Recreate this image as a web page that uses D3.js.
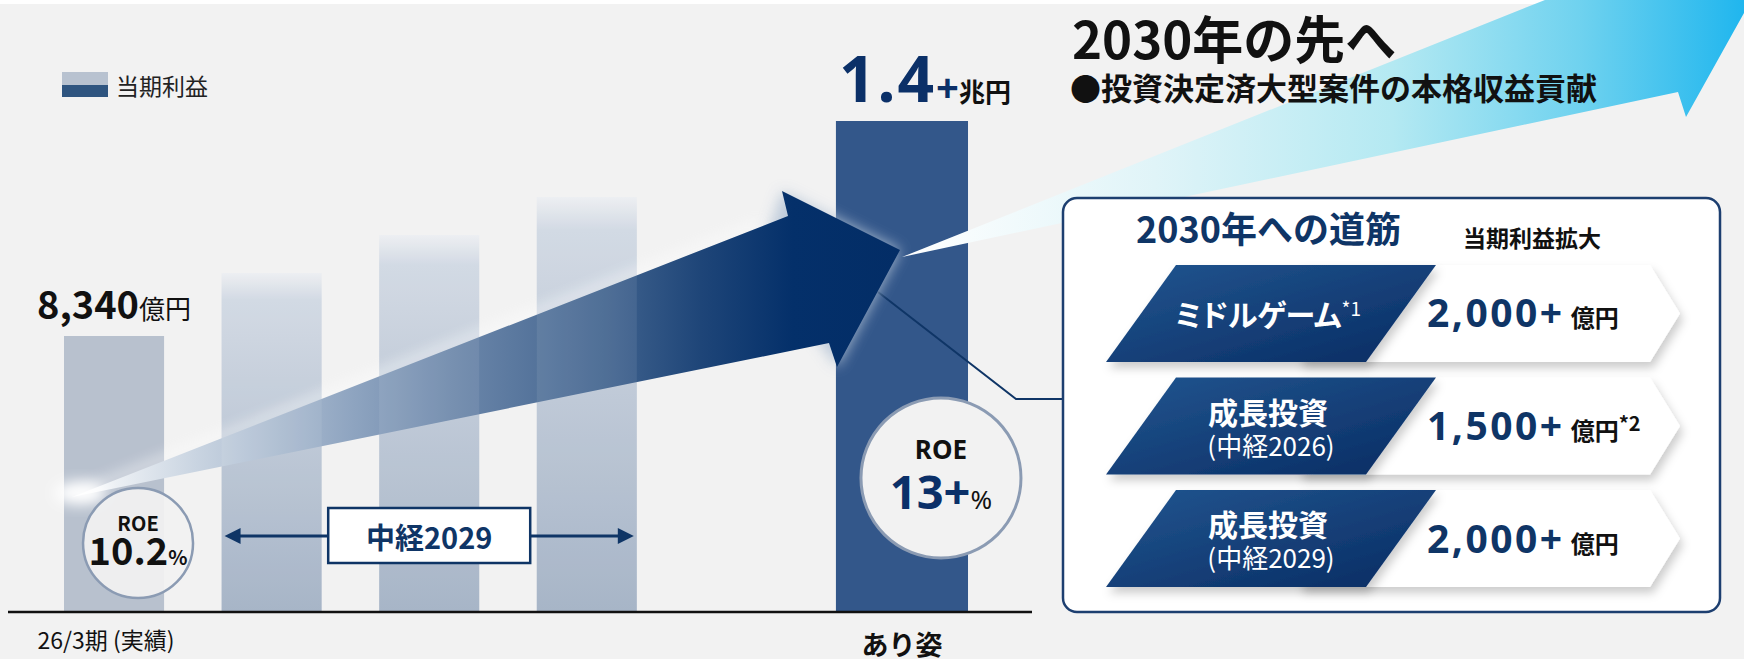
<!DOCTYPE html>
<html>
<head>
<meta charset="utf-8">
<script src="https://cdn.jsdelivr.net/npm/d3@7"></script>
<style>
  html, body { margin: 0; padding: 0; background: #f2f2f2; }
  svg { display: block; font-family: "Noto Sans CJK JP", "Noto Sans", sans-serif; }
</style>
</head>
<body>
<svg id="chart"></svg>
<script>
// ---- data ----
const periods = ["26/3期", "27/3期", "28/3期", "29/3期", "あり姿"];
const profit = [8340, 10000, 11000, 12000, 14000]; // 億円 (middle three)
const xLabels = ["26/3期 (実績)", "", "", "", "あり姿"];
const roeValues = ["10.2", "13+"];
const pathLabels = ["ミドルゲーム", "成長投資", "成長投資"];
const pathSubLabels = ["", "(中経2026)", "(中経2029)"];
const pathLabelNotes = ["*1", "", ""];
const pathValues = [2000, 1500, 2000]; // 億円
const pathValueNotes = ["", "*2", ""];

const width = 1744, height = 659;
const baseY = 611;
const navy = "#0f3566";

const svg = d3.select("#chart").attr("width", width).attr("height", height);
const defs = svg.append("defs");

// background + thin white strip at the top
svg.append("rect").attr("width", width).attr("height", height).attr("fill", "#f2f2f2");
svg.append("rect").attr("width", width).attr("height", 4).attr("fill", "#ffffff");

// ---- gradients & filters ----
const barGrad = defs.append("linearGradient").attr("id", "barGrad")
  .attr("x1", 0).attr("y1", 0).attr("x2", 0).attr("y2", 1);
barGrad.append("stop").attr("offset", 0).attr("stop-color", "#eceef1");
barGrad.append("stop").attr("offset", 0.08).attr("stop-color", "#cfd7e2");
barGrad.append("stop").attr("offset", 1).attr("stop-color", "#a0afc3");

const arrowGrad = defs.append("linearGradient").attr("id", "arrowGrad")
  .attr("gradientUnits", "userSpaceOnUse")
  .attr("x1", 72).attr("y1", 0).attr("x2", 900).attr("y2", 0);
[[0, "#ffffff"], [0.15, "#c9d4e1"], [0.34, "#8ea4c0"], [0.46, "#6c87aa"],
 [0.64, "#42648f"], [0.76, "#1e4578"], [0.87, "#04306a"], [1, "#032d66"]]
  .forEach(([o, c]) => arrowGrad.append("stop").attr("offset", o).attr("stop-color", c));

const cyanGrad = defs.append("linearGradient").attr("id", "cyanGrad")
  .attr("gradientUnits", "userSpaceOnUse")
  .attr("x1", 900).attr("y1", 0).attr("x2", 1750).attr("y2", 0);
[[0, "#ffffff"], [0.3, "#e0f4f8"], [0.58, "#b4e9f2"], [0.8, "#6fd2ef"], [1, "#1db5ee"]]
  .forEach(([o, c]) => cyanGrad.append("stop").attr("offset", o).attr("stop-color", c));

const tagGrad = defs.append("linearGradient").attr("id", "tagGrad")
  .attr("x1", 0).attr("y1", 0).attr("x2", 1).attr("y2", 1);
tagGrad.append("stop").attr("offset", 0).attr("stop-color", "#225690");
tagGrad.append("stop").attr("offset", 1).attr("stop-color", "#082b62");

const blur = defs.append("filter").attr("id", "blur")
  .attr("x", "-50%").attr("y", "-50%").attr("width", "200%").attr("height", "200%");
blur.append("feGaussianBlur").attr("stdDeviation", 7);

const shadow = defs.append("filter").attr("id", "shadow")
  .attr("x", "-20%").attr("y", "-30%").attr("width", "140%").attr("height", "170%");
shadow.append("feDropShadow").attr("dx", 3).attr("dy", 6).attr("stdDeviation", 5)
  .attr("flood-color", "#000").attr("flood-opacity", 0.2);

// ---- scales ----
const slots = [...periods.slice(0, 4), "", periods[4]];
const x = d3.scaleBand().domain(slots).range([64, 952]).paddingInner(0.365).paddingOuter(0);
const y = d3.scaleLinear().domain([1100, 14000]).range([baseY, 121]);
const bw = x.bandwidth();
const last = periods.length - 1;
const barW = (i) => (i === last ? bw * 1.32 : bw);
const barX = (d, i) => x(d) + bw / 2 - barW(i) / 2;

// ---- legend ----
svg.append("rect").attr("x", 62).attr("y", 72).attr("width", 46).attr("height", 13).attr("fill", "#b8c2d0");
svg.append("rect").attr("x", 62).attr("y", 85).attr("width", 46).attr("height", 12).attr("fill", "#2f5580");
svg.append("text").attr("x", 116).attr("y", 95).attr("font-size", 23).attr("fill", "#222").text("当期利益");

// ---- target bar (under the arrow) ----
svg.append("rect")
  .attr("x", barX(periods[last], last)).attr("y", y(profit[last]))
  .attr("width", barW(last)).attr("height", baseY - y(profit[last]))
  .attr("fill", "#33578a");

// ---- current + middle bars ----
svg.selectAll(".bar").data(periods.slice(0, 4)).enter().append("rect")
  .attr("class", "bar")
  .attr("x", (d, i) => barX(d, i)).attr("y", (d, i) => y(profit[i]))
  .attr("width", (d, i) => barW(i)).attr("height", (d, i) => baseY - y(profit[i]))
  .attr("fill", (d, i) => (i === 0 ? "#b8c1ce" : "url(#barGrad)"));

// connector from arrow tip to the panel
svg.append("polyline").attr("points", "878,292 1016,399 1064,399")
  .attr("fill", "none").attr("stroke", navy).attr("stroke-width", 2);

// ---- big growth arrow ----
const arrowPts = "72,497 788,216 782,191 900,250 837,367 829,343";
svg.append("polygon").attr("points", "782,191 900,250 837,367 760,260")
  .attr("fill", "#b9c7d8").attr("opacity", 0.9).attr("filter", "url(#blur)");
svg.append("line").attr("x1", 80).attr("y1", 492).attr("x2", 760).attr("y2", 224)
  .attr("stroke", "#ffffff").attr("stroke-width", 6).attr("opacity", 0.8).attr("filter", "url(#blur)");
svg.append("polygon").attr("points", arrowPts).attr("fill", "url(#arrowGrad)");
svg.append("ellipse").attr("cx", 80).attr("cy", 493).attr("rx", 26).attr("ry", 12)
  .attr("fill", "#ffffff").attr("filter", "url(#blur)");

// bars show faintly through the arrow
svg.selectAll(".barGlow").data(periods.slice(1, 4)).enter().append("rect")
  .attr("x", (d, i) => barX(d, i + 1)).attr("y", (d, i) => y(profit[i + 1]))
  .attr("width", bw).attr("height", (d, i) => baseY - y(profit[i + 1]))
  .attr("fill", "#ffffff").attr("opacity", 0.08);

// ---- cyan arrow "beyond 2030" ----
svg.append("polygon")
  .attr("points", "902,257 1640,-38 1632,-62 1768,-30 1686,117 1678,92")
  .attr("fill", "url(#cyanGrad)");

svg.append("text").attr("x", 1072).attr("y", 59)
  .attr("font-size", 51).attr("font-weight", 700).attr("fill", "#111")
  .text("2030年の先へ");
svg.append("text").attr("x", 1070).attr("y", 100)
  .attr("font-size", 31).attr("font-weight", 700).attr("fill", "#111")
  .text("●投資決定済大型案件の本格収益貢献");

// ---- value labels ----
const l0 = svg.append("text")
  .attr("x", x(periods[0]) + bw / 2).attr("y", y(profit[0]) - 17)
  .attr("text-anchor", "middle").attr("fill", "#111");
l0.append("tspan").attr("font-size", 38).attr("font-weight", 700).text(d3.format(",")(profit[0]));
l0.append("tspan").attr("font-size", 26).text("億円");

const l4 = svg.append("text")
  .attr("x", barX(periods[last], last) + 3).attr("y", y(profit[last]) - 19);
l4.append("tspan").attr("font-family", "'Noto Sans', sans-serif").attr("font-size", 64)
  .attr("font-weight", 700).attr("fill", "#0b3068").attr("letter-spacing", 2)
  .text((profit[last] / 10000).toFixed(1));
l4.append("tspan").attr("font-family", "'Noto Sans', sans-serif").attr("font-size", 40)
  .attr("font-weight", 700).attr("fill", "#0b3068").text("+");
l4.append("tspan").attr("font-size", 26).attr("font-weight", 700).attr("fill", "#111").text("兆円");

// ---- axis ----
svg.append("line").attr("x1", 8).attr("x2", 1032).attr("y1", baseY + 1).attr("y2", baseY + 1)
  .attr("stroke", "#111").attr("stroke-width", 2.5);
const axis = svg.append("g").attr("transform", `translate(0,${baseY + 1})`)
  .call(d3.axisBottom(x).tickSize(0).tickPadding(0)
    .tickFormat((d) => xLabels[periods.indexOf(d)] || ""));
axis.select(".domain").remove();
axis.selectAll("text")
  .attr("font-family", "'Noto Sans CJK JP', sans-serif")
  .attr("fill", "#111")
  .attr("dy", null)
  .attr("x", (d) => (d === periods[0] ? -8 : 0))
  .attr("y", (d) => (d === periods[last] ? 43 : 37))
  .attr("font-size", (d) => (d === periods[last] ? 27 : 23))
  .attr("font-weight", (d) => (d === periods[last] ? 700 : 400));

// ---- 中経2029 bracket ----
const bxL = x(periods[1]) + 3, bxR = x(periods[3]) + bw - 3, byM = 536;
svg.append("line").attr("x1", bxL + 12).attr("x2", bxR - 12).attr("y1", byM).attr("y2", byM)
  .attr("stroke", navy).attr("stroke-width", 3);
svg.append("path").attr("d", `M${bxL},${byM} l16,-8 v16 z`).attr("fill", navy);
svg.append("path").attr("d", `M${bxR},${byM} l-16,-8 v16 z`).attr("fill", navy);
const bxC = x(periods[2]) + bw / 2;
svg.append("rect").attr("x", bxC - 101).attr("y", 508).attr("width", 202).attr("height", 55)
  .attr("fill", "#ffffff").attr("stroke", navy).attr("stroke-width", 2.5);
svg.append("text").attr("x", bxC).attr("y", 549).attr("text-anchor", "middle")
  .attr("font-size", 29).attr("font-weight", 700).attr("fill", navy).text("中経2029");

// ---- ROE circles ----
const c1 = { cx: x(periods[0]) + bw / 2 + 24, cy: 543, r: 55 };
svg.append("circle").attr("cx", c1.cx).attr("cy", c1.cy).attr("r", c1.r)
  .attr("fill", "#f2f2f2").attr("fill-opacity", 0.92).attr("stroke", "#8b9bb3").attr("stroke-width", 2.5);
svg.append("text").attr("x", c1.cx).attr("y", 531).attr("text-anchor", "middle")
  .attr("font-size", 20).attr("font-weight", 700).attr("fill", "#111").text("ROE");
const r1 = svg.append("text").attr("x", c1.cx).attr("y", 565).attr("text-anchor", "middle").attr("fill", "#111");
r1.append("tspan").attr("font-size", 38).attr("font-weight", 700).text(roeValues[0]);
r1.append("tspan").attr("font-size", 20).attr("font-weight", 700).text("%");

const c2 = { cx: barX(periods[last], last) + barW(last) / 2 + 39, cy: 478, r: 80 };
svg.append("circle").attr("cx", c2.cx).attr("cy", c2.cy).attr("r", c2.r)
  .attr("fill", "#f2f2f2").attr("stroke", "#8b9bb3").attr("stroke-width", 3);
svg.append("text").attr("x", c2.cx).attr("y", 459).attr("text-anchor", "middle")
  .attr("font-family", "'Noto Sans', sans-serif")
  .attr("font-size", 26).attr("font-weight", 700).attr("fill", "#111").text("ROE");
const r2 = svg.append("text").attr("x", c2.cx).attr("y", 509).attr("text-anchor", "middle");
r2.append("tspan").attr("font-family", "'Noto Sans', sans-serif").attr("font-size", 47)
  .attr("font-weight", 700).attr("fill", "#0b3068").text(roeValues[1]);
r2.append("tspan").attr("font-family", "'Noto Sans', sans-serif").attr("font-size", 26)
  .attr("fill", "#111").text("%");

// ---- right panel: 2030年への道筋 ----
svg.append("rect").attr("x", 1063).attr("y", 198).attr("width", 657).attr("height", 414)
  .attr("rx", 14).attr("fill", "#ffffff").attr("stroke", "#1d3f70").attr("stroke-width", 2.5);
svg.append("text").attr("x", 1136).attr("y", 243)
  .attr("font-size", 36).attr("font-weight", 700).attr("fill", navy).text("2030年への道筋");
svg.append("text").attr("x", 1463).attr("y", 247)
  .attr("font-size", 23).attr("font-weight", 700).attr("fill", "#111").text("当期利益拡大");

const rowY = d3.scaleBand().domain(d3.range(pathLabels.length)).range([265, 587])
  .paddingInner(0.138).paddingOuter(0);
const rh = rowY.bandwidth();

const rows = svg.selectAll(".row").data(pathLabels).enter().append("g")
  .attr("class", "row")
  .attr("transform", (d, i) => `translate(0,${rowY(i)})`);

rows.append("polygon")
  .attr("points", `1300,0 1650,0 1680,${rh / 2} 1650,${rh} 1300,${rh}`)
  .attr("fill", "#ffffff").attr("filter", "url(#shadow)");
rows.append("polygon")
  .attr("points", `1176,0 1436,0 1366,${rh} 1106,${rh}`)
  .attr("fill", "url(#tagGrad)").attr("filter", "url(#shadow)");

const tagText = rows.append("text")
  .attr("x", 1268).attr("y", (d, i) => (pathSubLabels[i] ? 46 : 61))
  .attr("text-anchor", "middle").attr("fill", "#ffffff")
  .attr("font-size", 30).attr("font-weight", 700)
  .style("font-feature-settings", "'palt'");
tagText.append("tspan").text((d) => d);
tagText.append("tspan").attr("font-size", 19).attr("font-weight", 400).attr("dy", -10)
  .text((d, i) => pathLabelNotes[i]);
rows.append("text").attr("x", 1271).attr("y", 78)
  .attr("text-anchor", "middle").attr("fill", "#ffffff").attr("font-size", 26)
  .text((d, i) => pathSubLabels[i]);

const valText = rows.append("text").attr("x", 1427).attr("y", rh / 2 + 14);
valText.append("tspan").attr("font-family", "'Noto Sans', sans-serif")
  .attr("font-size", 39).attr("font-weight", 700).attr("fill", navy).attr("letter-spacing", 2.5)
  .text((d, i) => d3.format(",")(pathValues[i]) + "+");
valText.append("tspan").attr("dx", 6).attr("font-size", 24).attr("font-weight", 700).attr("fill", "#111").text("億円");
valText.append("tspan").attr("font-size", 20).attr("font-weight", 700).attr("fill", "#111").attr("dy", -9)
  .text((d, i) => pathValueNotes[i]);
</script>
</body>
</html>
